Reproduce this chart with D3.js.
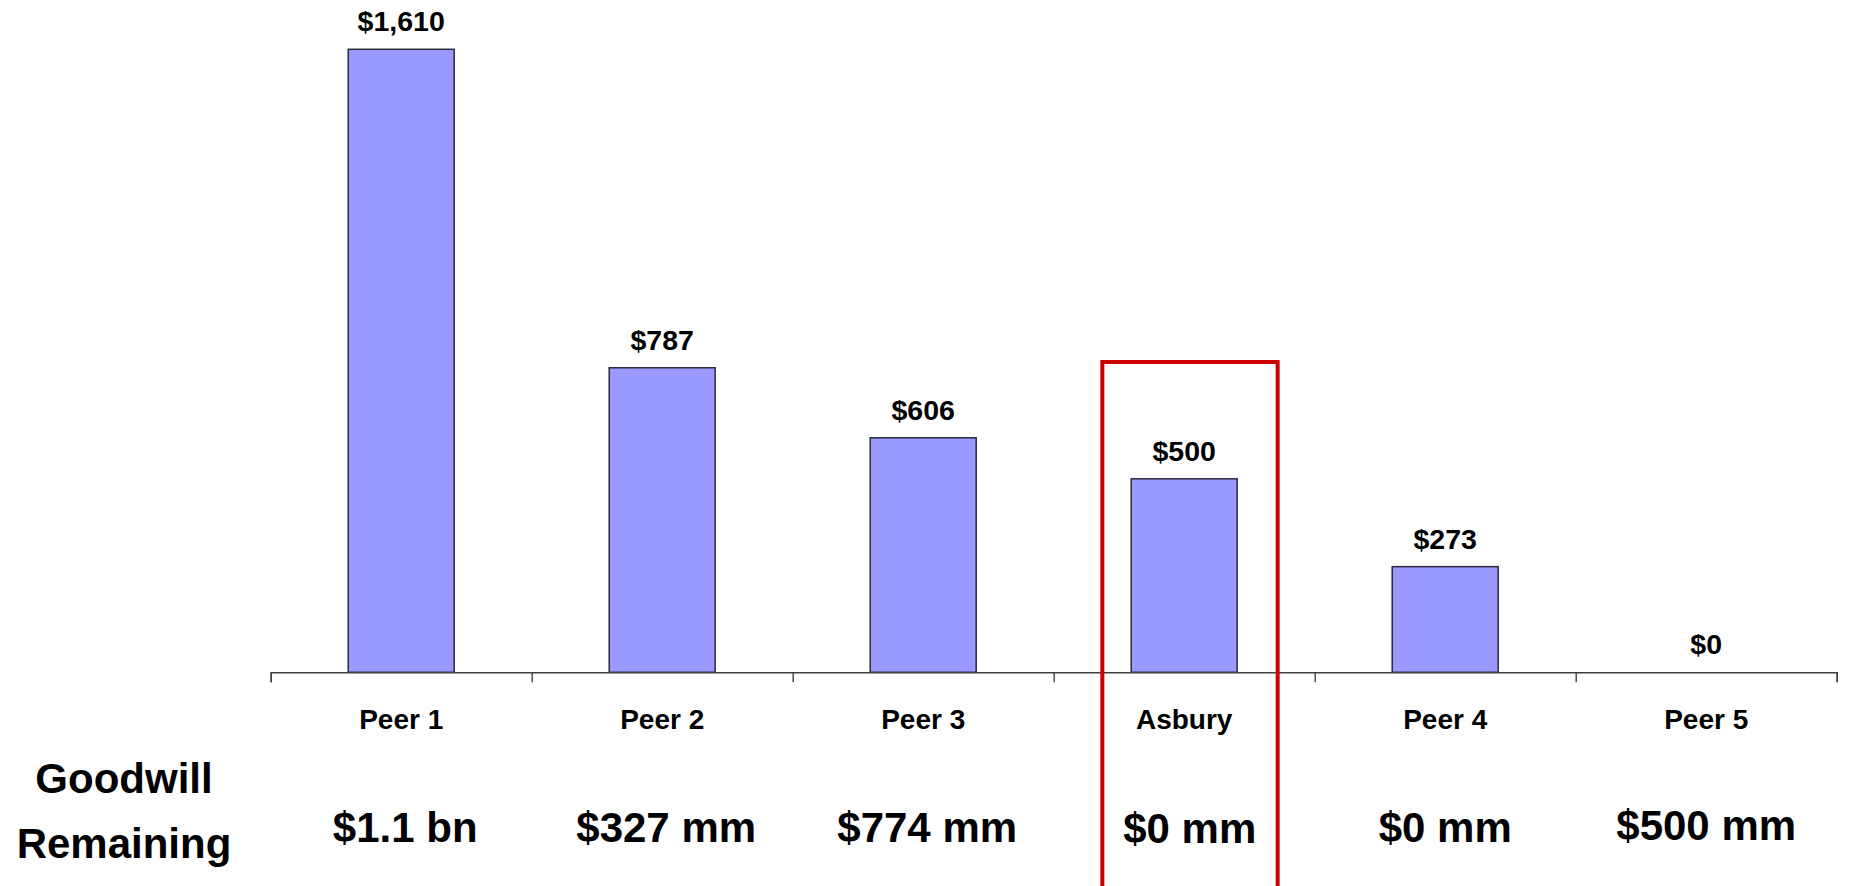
<!DOCTYPE html>
<html>
<head>
<meta charset="utf-8">
<script src="https://cdn.jsdelivr.net/npm/d3@7"></script>
<style>
  html, body { margin: 0; padding: 0; background: #fff; }
  svg { display: block; }
  text { font-family: "Liberation Sans", Arial, Helvetica, sans-serif; font-weight: bold; fill: #000; }
</style>
</head>
<body>
<svg id="chart" width="1849" height="886"></svg>
<script>
// ---- data ----
const categories = ["Peer 1", "Peer 2", "Peer 3", "Asbury", "Peer 4", "Peer 5"];
const values = [1610, 787, 606, 500, 273, 0];
const valueLabels = ["$1,610", "$787", "$606", "$500", "$273", "$0"];
const goodwillLabels = ["$1.1 bn", "$327 mm", "$774 mm", "$0 mm", "$0 mm", "$500 mm"];
const rowTitle = ["Goodwill", "Remaining"];
const highlighted = "Asbury";

// ---- layout ----
const W = 1849, H = 886;
const axisY = 672.3;
const plotTop = 49.3;
const xLeft = 270.7, xRight = 1836.7;

const svg = d3.select("#chart");

const x = d3.scaleBand().domain(categories).range([xLeft, xRight]).padding(0);
const y = d3.scaleLinear().domain([0, d3.max(values)]).range([axisY, plotTop]);

const barW = x.bandwidth() * 0.406;

// bars
svg.append("g").selectAll("rect.bar")
  .data(categories.map((c, i) => ({ c, v: values[i] })))
  .join("rect")
  .attr("class", "bar")
  .filter(d => d.v > 0)
  .attr("x", d => x(d.c) + x.bandwidth() / 2 - barW / 2)
  .attr("y", d => y(d.v))
  .attr("width", barW)
  .attr("height", d => y(0) - y(d.v))
  .attr("fill", "#9999FF")
  .attr("stroke", "#2a2a3a")
  .attr("stroke-width", 1.5);

// value labels
svg.append("g").selectAll("text")
  .data(categories.map((c, i) => ({ c, v: values[i], t: valueLabels[i] })))
  .join("text")
  .attr("x", d => x(d.c) + x.bandwidth() / 2)
  .attr("y", d => y(d.v) - 18)
  .attr("text-anchor", "middle")
  .attr("font-size", 28.5)
  .text(d => d.t);

// x axis: baseline with ticks at category boundaries
const boundary = d3.scaleLinear().domain([0, categories.length]).range([xLeft, xRight]);
const axisG = svg.append("g")
  .attr("transform", `translate(0,${axisY})`)
  .call(d3.axisBottom(boundary).ticks(categories.length).tickSize(10).tickSizeOuter(10).tickFormat(""));
axisG.selectAll("path, line").attr("stroke", "#404040").attr("stroke-width", 1.4);

// category labels
const labelAxis = svg.append("g")
  .attr("transform", `translate(0,${axisY})`)
  .call(d3.axisBottom(x).tickSize(0).tickPadding(0));
labelAxis.select(".domain").remove();
labelAxis.selectAll("text")
  .attr("y", 729 - axisY)
  .attr("dy", 0)
  .attr("font-size", 28)
  .attr("font-family", '"Liberation Sans", Arial, sans-serif')
  .attr("font-weight", "bold")
  .attr("fill", "#000");

// goodwill remaining row
const idxOf = c => categories.indexOf(c);
svg.append("g").selectAll("text")
  .data(categories.map((c, i) => ({ c, t: goodwillLabels[i] })))
  .join("text")
  .attr("x", d => x(d.c) + x.bandwidth() / 2 + (d.c === highlighted ? 5.5 : (idxOf(d.c) < 3 ? 4 : 0)))
  .attr("y", d => d.c === highlighted ? 843 : (idxOf(d.c) === categories.length - 1 ? 839.5 : 841.5))
  .attr("text-anchor", "middle")
  .attr("font-size", 42)
  .text(d => d.t);

// row title
svg.append("g").selectAll("text")
  .data(rowTitle)
  .join("text")
  .attr("x", 124)
  .attr("y", (d, i) => i === 0 ? 793.3 : 858.3)
  .attr("text-anchor", "middle")
  .attr("font-size", 42)
  .text(d => d);

// highlight box around Asbury
const hx = x(highlighted) + x.bandwidth() / 2 + 5.8;
const boxW = 175.3;
svg.append("rect")
  .attr("x", hx - boxW / 2)
  .attr("y", 362)
  .attr("width", boxW)
  .attr("height", H - 362 + 20)
  .attr("fill", "none")
  .attr("stroke", "#CC0000")
  .attr("stroke-width", 4);
</script>
</body>
</html>
